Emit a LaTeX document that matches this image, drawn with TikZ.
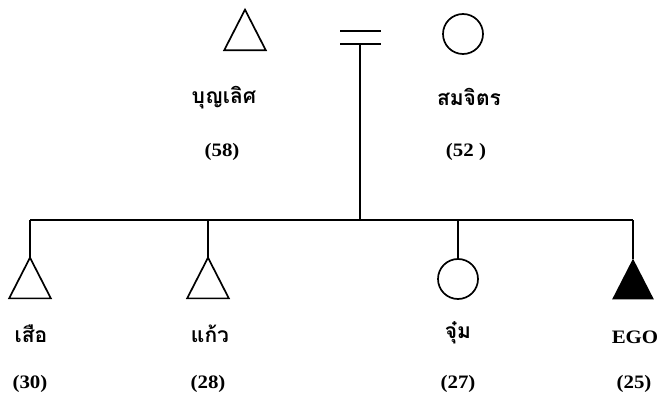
\documentclass[tikz,border=0pt]{standalone}
\usepackage{fontspec}
\usepackage{tikz}
\newfontfamily\thaifont[Script=Thai]{Loma}
\newfontfamily\agefont[FakeStretch=1.1]{Liberation Serif}

\begin{document}
\begin{tikzpicture}[x=1pt, y=-1pt, line width=1.7pt,
    male/.style={inner sep=0pt, minimum width=40pt, minimum height=39pt},
    female/.style={draw, circle, inner sep=0pt, minimum size=40pt},
    kin/.style={font=\thaifont\bfseries\fontsize{21}{21}\selectfont, inner sep=0pt},
    age/.style={font=\agefont\bfseries\fontsize{19}{19}\selectfont, inner sep=0pt}]
    \useasboundingbox (0,0) rectangle (659,401);

    \node[male] (F) at (245,30) {};
    \node[female] (M) at (463,34) {};

    \coordinate (W1) at (340,31);
    \coordinate (W2) at (381,31);
    \coordinate (W3) at (340,44);
    \coordinate (W4) at (381,44);
    \coordinate (W) at (360,44);
    \coordinate (S) at (360,220);
    \coordinate (L) at (30,220);
    \coordinate (R) at (633,220);

    \draw (W1) -- (W2);
    \draw (W3) -- (W4);
    \draw (W) -- (S);
    \draw (L) -- (R);

    \node[male] (T) at (30,278) {};
    \node[male] (K) at (208,278) {};
    \node[female] (J) at (458,279) {};
    \node[male] (E) at (633,279) {};

    \foreach \p in {F,T,K}
        \draw (\p.north) -- (\p.south east) -- (\p.south west) -- cycle;
    \fill (E.north) -- (E.south east) -- (E.south west) -- cycle;

    \draw (L) -- (T.north);
    \draw (K.north |- S) -- (K.north);
    \draw (J.north |- S) -- (J.north);
    \draw (R) -- (E.north);

    \node[kin] (nF) at (224,98) {บุญเลิศ};
    \node[age] (aF) at (222,152) {(58)};
    \node[kin] (nM) at (469,97) {สมจิตร};
    \node[age] (aM) at (466,152) {(52 )};

    \node[kin] (nT) at (31,334) {เสือ};
    \node[age] (aT) at (30,384) {(30)};
    \node[kin] (nK) at (210,334) {แก้ว};
    \node[age] (aK) at (208,384) {(28)};
    \node[kin] (nJ) at (458,333) {จุ๋ม};
    \node[age] (aJ) at (458,384) {(27)};
    \node[age] (nE) at (635,337) {EGO};
    \node[age] (aE) at (634,384) {(25)};
\end{tikzpicture}
\end{document}
